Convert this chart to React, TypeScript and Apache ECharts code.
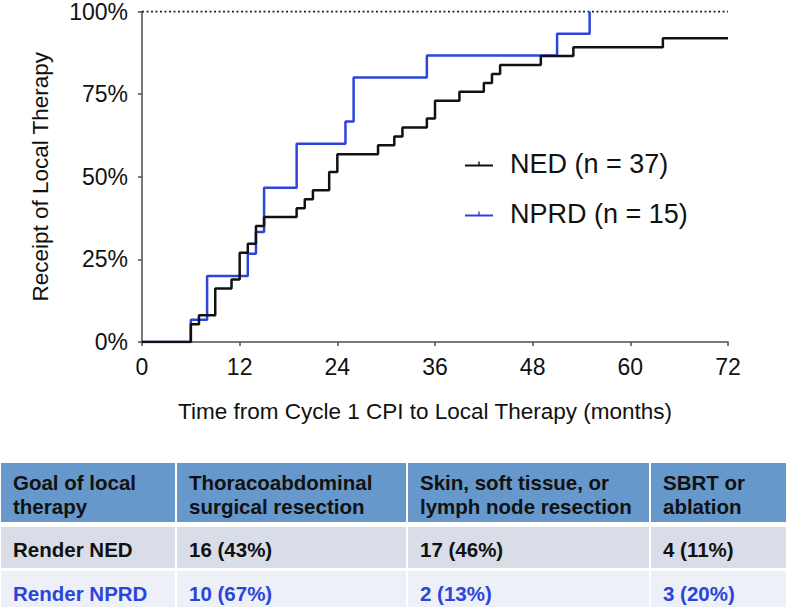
import React, { useEffect, useRef } from 'react';
import * as echarts from 'echarts';

const FONT = "'Liberation Sans', Arial, Helvetica, sans-serif";

// Kaplan–Meier style cumulative incidence (event month, cumulative %)
const nedMonths = [0, 6, 7, 9, 11, 12, 13, 14, 15, 19, 20, 21, 23, 24, 29, 31, 32, 35, 36, 39, 42, 43, 44, 49, 53, 64, 72];
const nedPct = [0, 5.4, 8.1, 16.2, 18.9, 27.0, 29.7, 35.1, 37.8, 40.5, 43.2, 45.9, 51.4, 56.8, 59.5, 62.2, 64.9, 67.6, 73.0, 75.7, 78.4, 81.1, 83.8, 86.5, 89.2, 91.9, 91.9];
const nprdMonths = [0, 6, 8, 13, 14, 15, 19, 25, 26, 35, 51, 55];
const nprdPct = [0, 6.7, 20.0, 26.7, 33.3, 46.7, 60.0, 66.7, 80.0, 86.7, 93.3, 100];

const seriesNames = ['NED (n = 37)', 'NPRD (n = 15)'];
const xTicks = [0, 12, 24, 36, 48, 60, 72];
const yTicks = [0, 25, 50, 75, 100];

const tableHeader = ['Goal of local\ntherapy', 'Thoracoabdominal\nsurgical resection', 'Skin, soft tissue, or\nlymph node resection', 'SBRT or\nablation'];
const nedRow = ['Render NED', '16 (43%)', '17 (46%)', '4 (11%)'];
const nprdRow = ['Render NPRD', '10 (67%)', '2 (13%)', '3 (20%)'];

const BLACK = '#111111';
const BLUE = '#2b45dc';

export default function App() {
  const ref = useRef<HTMLDivElement>(null);

  useEffect(() => {
    document.body.style.margin = '0';
    if (!ref.current) return;
    const chart = echarts.init(ref.current, undefined, { renderer: 'svg' });

    // table layout
    const colX = [1, 177, 408, 651];
    const colW = [174, 229, 241, 135];
    const textPadX = [12, 12, 12, 12];
    const rows = [
      { cells: tableHeader, top: 463, h: 59, fill: '#6698cb', color: BLACK, ty: 494 },
      { cells: nedRow, top: 527, h: 41, fill: '#d8dde8', color: BLACK, ty: 549 },
      { cells: nprdRow, top: 571, h: 45, fill: '#edf0f6', color: BLUE, ty: 593 },
    ];
    const graphics: any[] = [];
    rows.forEach((r) => {
      r.cells.forEach((txt, i) => {
        graphics.push({
          type: 'rect',
          shape: { x: colX[i], y: r.top, width: colW[i], height: r.h },
          style: { fill: r.fill },
          silent: true,
        });
        graphics.push({
          type: 'text',
          x: colX[i] + textPadX[i],
          y: r.ty,
          style: {
            text: txt,
            fill: r.color,
            font: `bold 20.5px ${FONT}`,
            lineHeight: 24,
            verticalAlign: 'middle',
            align: 'left',
          },
          silent: true,
        });
      });
    });

    const nedData = nedMonths.map((m, i) => [m, nedPct[i]]);
    const nprdData = nprdMonths.map((m, i) => [m, nprdPct[i]]);

    const icon = 'path://M0,4L28,4L28,6L0,6Z M13.3,1L14.7,1L14.7,4L13.3,4Z';

    chart.setOption({
      animation: false,
      backgroundColor: '#ffffff',
      textStyle: { fontFamily: FONT },
      grid: { left: 142, right: 59, top: 11, bottom: 265, containLabel: false },
      legend: {
        orient: 'vertical',
        left: 465,
        top: 149,
        padding: 0,
        itemGap: 20,
        itemWidth: 28,
        itemHeight: 6,
        data: [
          { name: seriesNames[0], icon },
          { name: seriesNames[1], icon },
        ],
        textStyle: { fontSize: 27, color: BLACK, fontFamily: FONT, lineHeight: 30, padding: [0, 0, 0, 12] },
      },
      xAxis: {
        type: 'value',
        min: 0,
        max: 72,
        interval: 12,
        name: 'Time from Cycle 1 CPI to Local Therapy (months)',
        nameLocation: 'middle',
        nameGap: 58,
        nameTextStyle: { fontSize: 22.5, color: BLACK, fontFamily: FONT, padding: [0, 20, 0, 0] },
        axisLine: { show: true, lineStyle: { color: '#4d4d4d', width: 1.5 } },
        axisTick: { show: true, length: 4, lineStyle: { color: '#4d4d4d', width: 1.5 } },
        axisLabel: {
          fontSize: 23,
          color: BLACK,
          margin: 13,
          fontFamily: FONT,
          formatter: (v: number) => (xTicks.includes(v) ? String(v) : ''),
        },
        splitLine: { show: false },
      },
      yAxis: {
        type: 'value',
        min: 0,
        max: 100,
        interval: 25,
        name: 'Receipt of Local Therapy',
        nameLocation: 'middle',
        nameGap: 90,
        nameTextStyle: { fontSize: 22.5, color: BLACK, fontFamily: FONT },
        axisLine: { show: true, lineStyle: { color: '#4d4d4d', width: 1.5 } },
        axisTick: { show: true, length: 4, lineStyle: { color: '#4d4d4d', width: 1.5 } },
        axisLabel: {
          fontSize: 23,
          color: BLACK,
          margin: 14,
          fontFamily: FONT,
          formatter: (v: number) => (yTicks.includes(v) ? `${v}%` : ''),
        },
        splitLine: { show: false },
      },
      series: [
        {
          name: 'ref100',
          type: 'line',
          data: [[0, 100], [72, 100]],
          symbol: 'none',
          lineStyle: { color: '#222', width: 2, type: [2, 2.5] },
          silent: true,
          z: 1,
        },
        {
          name: seriesNames[1],
          type: 'line',
          step: 'end',
          data: nprdData,
          symbol: 'none',
          color: BLUE,
          lineStyle: { color: BLUE, width: 2.5 },
          z: 2,
        },
        {
          name: seriesNames[0],
          type: 'line',
          step: 'end',
          data: nedData,
          symbol: 'none',
          color: BLACK,
          lineStyle: { color: BLACK, width: 2.5 },
          z: 3,
        },
      ],
      graphic: graphics,
    });

    return () => chart.dispose();
  }, []);

  return <div ref={ref} style={{ width: 787, height: 607 }} />;
}
